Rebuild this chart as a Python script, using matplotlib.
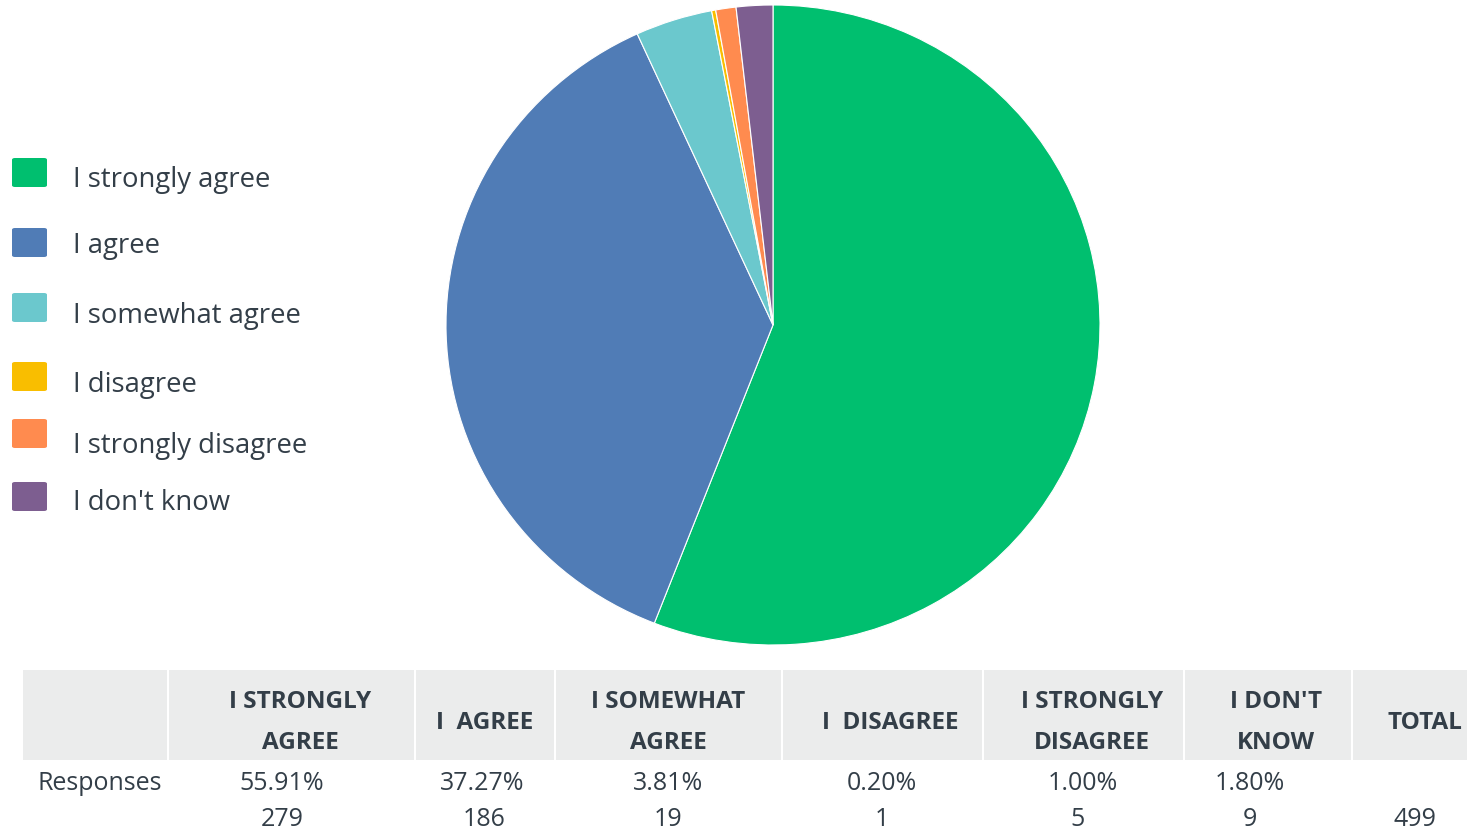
import matplotlib
matplotlib.use("Agg")
import matplotlib.pyplot as plt
from matplotlib.patches import Rectangle, FancyBboxPatch

plt.rcParams['font.family'] = ['Open Sans', 'DejaVu Sans']

labels = ["I strongly agree", "I agree", "I somewhat agree", "I disagree",
          "I strongly disagree", "I don't know"]
counts = [279, 186, 19, 1, 5, 9]
percents = ["55.91%", "37.27%", "3.81%", "0.20%", "1.00%", "1.80%"]
headers = ["I STRONGLY\nAGREE", "I  AGREE", "I SOMEWHAT\nAGREE", "I  DISAGREE",
           "I STRONGLY\nDISAGREE", "I DON'T\nKNOW", "TOTAL"]
total = 499
colors = ["#00BF6F", "#507CB6", "#6BC8CD", "#F9BE00", "#FF8B4F", "#7D5E90"]

TXT = "#333E48"
W, H = 1468, 830
fig = plt.figure(figsize=(W / 100, H / 100), dpi=100)

def fx(x):
    return x / W

def fy(y):
    return 1 - y / H

# Pie
cx, cy, rx, ry = 773, 325, 327, 320
ax = fig.add_axes([fx(cx - rx), fy(cy + ry), 2 * rx / W, 2 * ry / H])
ax.pie(counts, colors=colors, startangle=90, counterclock=False,
       wedgeprops=dict(edgecolor="white", linewidth=0.8))
ax.set_xlim(-1, 1)
ax.set_ylim(-1, 1)
ax.set_aspect('auto')
ax.axis('off')

# Legend
sq_top = [158, 228, 293, 362, 419, 482]
baselines = [187, 253, 323, 392, 453, 510]
for lab, col, t, b in zip(labels, colors, sq_top, baselines):
    fig.patches.append(FancyBboxPatch((fx(12), fy(t + 29)), 35 / W, 29 / H,
                                      boxstyle="round,pad=0,rounding_size=0.002",
                                      transform=fig.transFigure, facecolor=col,
                                      edgecolor="none"))
    fig.text(fx(73), fy(b), lab, fontsize=19.8, color=TXT, va='baseline', ha='left')

# Table header
col_edges = [22, 168, 415, 555, 782, 983, 1184, 1352, 1468]
top, bot = 670, 760
for i in range(len(col_edges) - 1):
    x0, x1 = col_edges[i], col_edges[i + 1]
    fig.patches.append(Rectangle((fx(x0 + 1), fy(bot)), (x1 - x0 - 2) / W, (bot - top) / H,
                                 transform=fig.transFigure, facecolor="#EBECEC",
                                 edgecolor="none"))

hdr_x = [300, 485, 668, 890, 1092, 1276, 1425]
for h, x in zip(headers, hdr_x):
    fig.text(fx(x), fy(722.5), h, fontsize=17.5, fontweight='bold', color=TXT,
             ha='center', va='center', linespacing=1.95)

fig.text(fx(37), fy(783), "Responses", fontsize=18, color=TXT, ha='left', va='center')
pct_x = [282, 482, 668, 882, 1083, 1250]
cnt_x = [282, 484, 668, 882, 1078, 1250]
for p, c, xp, xc in zip(percents, counts, pct_x, cnt_x):
    fig.text(fx(xp), fy(783), p, fontsize=18, color=TXT, ha='center', va='center')
    fig.text(fx(xc), fy(819), str(c), fontsize=18, color=TXT, ha='center', va='center')
fig.text(fx(1415), fy(819), str(total), fontsize=18, color=TXT, ha='center', va='center')

fig.savefig("out.png", dpi=100, facecolor="white")
